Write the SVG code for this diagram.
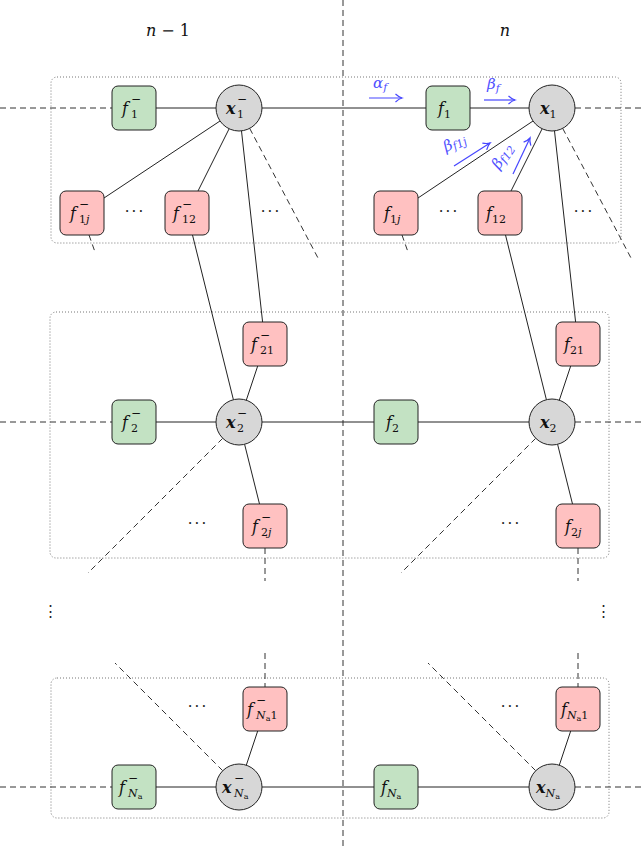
<svg xmlns="http://www.w3.org/2000/svg" width="644" height="846" viewBox="0 0 644 846">
<defs>
<style>
.bg{fill:#fff}
.grp{fill:none;stroke:#777;stroke-width:1;stroke-dasharray:1 2}
.sol{stroke:#222;stroke-width:1;fill:none}
.dsh{stroke:#333;stroke-width:1;fill:none;stroke-dasharray:6 4}
.fg{fill:#c3e2c3;stroke:#222;stroke-width:1}
.fr{fill:#ffc1c1;stroke:#222;stroke-width:1}
.vx{fill:#d7d7d7;stroke:#222;stroke-width:1}
.t{font-family:'DejaVu Serif','Liberation Serif',serif;font-size:16px;fill:#111}
.it{font-style:italic}
.bi{font-style:italic;font-weight:bold}
.s{font-size:11px}
.sm{font-size:12px}
.ss{font-size:8px}
.dots{font-family:'DejaVu Serif',serif;font-size:15px;fill:#222;letter-spacing:2px}
.blue{stroke:#4646ff;stroke-width:1.2;fill:none}
.bt{font-family:'DejaVu Serif','Liberation Serif',serif;font-size:15px;fill:#5050ff;font-style:italic}
</style>
<marker id="ah" markerWidth="10" markerHeight="10" refX="8" refY="5" orient="auto" markerUnits="userSpaceOnUse">
<path d="M1.5,1 Q5,4.2 8,5 Q5,5.8 1.5,9" fill="none" stroke="#4646ff" stroke-width="1.2"/>
</marker>
</defs>
<rect class="bg" x="0" y="0" width="644" height="846"/>

<g id="groups">
<rect class="grp" x="51" y="77" width="570" height="166" rx="6"/>
<rect class="grp" x="50" y="312" width="559" height="246" rx="6"/>
<rect class="grp" x="51" y="678" width="558" height="140" rx="6"/>
</g>

<g id="connectors">
<line class="dsh" x1="343" y1="0" x2="343" y2="846"/>
<line class="dsh" x1="0" y1="108" x2="112" y2="108"/>
<line class="sol" x1="156" y1="108" x2="216" y2="108"/>
<line class="sol" x1="262" y1="108" x2="426" y2="108"/>
<line class="sol" x1="470" y1="108" x2="529" y2="108"/>
<line class="dsh" x1="575" y1="108" x2="644" y2="108"/>
<line class="dsh" x1="0" y1="422" x2="112" y2="422"/>
<line class="sol" x1="156" y1="422" x2="216" y2="422"/>
<line class="sol" x1="262" y1="422" x2="374" y2="422"/>
<line class="sol" x1="418" y1="422" x2="529" y2="422"/>
<line class="dsh" x1="575" y1="422" x2="644" y2="422"/>
<line class="dsh" x1="0" y1="787" x2="112" y2="787"/>
<line class="sol" x1="156" y1="787" x2="216" y2="787"/>
<line class="sol" x1="262" y1="787" x2="374" y2="787"/>
<line class="sol" x1="418" y1="787" x2="529" y2="787"/>
<line class="dsh" x1="575" y1="787" x2="644" y2="787"/>
<line class="sol" x1="220" y1="121" x2="104" y2="198"/>
<line class="sol" x1="229" y1="129" x2="198" y2="191"/>
<line class="sol" x1="241.5" y1="131" x2="262.6" y2="322"/>
<line class="dsh" x1="249.7" y1="128.4" x2="318" y2="258"/>
<line class="dsh" x1="89" y1="235" x2="95" y2="252"/>
<line class="sol" x1="192.5" y1="235" x2="233.4" y2="399.7"/>
<line class="sol" x1="257.7" y1="366" x2="246.3" y2="400.2"/>
<line class="sol" x1="244.6" y1="444.3" x2="259.5" y2="504"/>
<line class="dsh" x1="222.7" y1="438.3" x2="88" y2="573"/>
<line class="dsh" x1="265" y1="548" x2="265" y2="581"/>
<line class="dsh" x1="222.7" y1="770.7" x2="115" y2="663"/>
<line class="dsh" x1="265" y1="653" x2="265" y2="687"/>
<line class="sol" x1="257.7" y1="731" x2="246.3" y2="765.2"/>
<line class="sol" x1="533" y1="121" x2="418" y2="198"/>
<line class="sol" x1="542" y1="129" x2="511" y2="191"/>
<line class="sol" x1="554.5" y1="131" x2="575.6" y2="322"/>
<line class="dsh" x1="562.7" y1="128.4" x2="631" y2="258"/>
<line class="dsh" x1="402" y1="235" x2="408" y2="252"/>
<line class="sol" x1="505.5" y1="235" x2="546.4" y2="399.7"/>
<line class="sol" x1="570.7" y1="366" x2="559.3" y2="400.2"/>
<line class="sol" x1="557.6" y1="444.3" x2="572.5" y2="504"/>
<line class="dsh" x1="535.7" y1="438.3" x2="401" y2="573"/>
<line class="dsh" x1="578" y1="548" x2="578" y2="581"/>
<line class="dsh" x1="535.7" y1="770.7" x2="428" y2="663"/>
<line class="dsh" x1="578" y1="653" x2="578" y2="687"/>
<line class="sol" x1="570.7" y1="731" x2="559.3" y2="765.2"/>
</g>

<g id="messages">
<line class="blue" x1="369" y1="98" x2="402" y2="98" marker-end="url(#ah)"/>
<text class="bt" x="373" y="88">α<tspan class="s" dy="3">f</tspan></text>
<line class="blue" x1="484" y1="100" x2="515" y2="100" marker-end="url(#ah)"/>
<text class="bt" x="487" y="89">β<tspan class="s" dy="3">f</tspan></text>
<line class="blue" x1="454" y1="166" x2="490" y2="143" marker-end="url(#ah)"/>
<text class="bt" transform="translate(446,152) rotate(-25)">β<tspan class="s" dy="2">f1j</tspan></text>
<line class="blue" x1="513" y1="174" x2="530" y2="138" marker-end="url(#ah)"/>
<text class="bt" transform="translate(499,170) rotate(-55)">β<tspan class="s" dy="2">f12</tspan></text>
</g>

<g id="headers">
<text class="t" x="168" y="36" text-anchor="middle"><tspan class="it">n</tspan> − 1</text>
<text class="t it" x="505" y="36" text-anchor="middle">n</text>
</g>

<g id="ellipses">
<text class="dots" x="135" y="216" text-anchor="middle">···</text>
<text class="dots" x="271" y="216" text-anchor="middle">···</text>
<text class="dots" x="449" y="216" text-anchor="middle">···</text>
<text class="dots" x="584" y="216" text-anchor="middle">···</text>
<text class="dots" x="198" y="528" text-anchor="middle">···</text>
<text class="dots" x="511" y="528" text-anchor="middle">···</text>
<text class="dots" x="198" y="711" text-anchor="middle">···</text>
<text class="dots" x="511" y="711" text-anchor="middle">···</text>
<text class="dots" x="51" y="616" text-anchor="middle">⋮</text>
<text class="dots" x="604" y="616" text-anchor="middle">⋮</text>
</g>

<g id="f1m"><rect class="fg" x="112" y="86" width="44" height="44" rx="6"/>
<text class="t" x="122" y="114"><tspan class="it">f</tspan><tspan class="sm" x="131" y="103">−</tspan><tspan class="s" x="131" y="118">1</tspan></text></g>
<g id="x1m"><circle class="vx" cx="239" cy="108" r="23"/>
<text class="t" x="226" y="114"><tspan class="bi">x</tspan><tspan class="sm" x="237" y="103">−</tspan><tspan class="s" x="237" y="118">1</tspan></text></g>
<g id="f1jm"><rect class="fr" x="60" y="191" width="44" height="44" rx="6"/>
<text class="t" x="70" y="219"><tspan class="it">f</tspan><tspan class="sm" x="79" y="208">−</tspan><tspan class="s" x="79" y="223">1<tspan class="it">j</tspan></tspan></text></g>
<g id="f12m"><rect class="fr" x="165" y="191" width="44" height="44" rx="6"/>
<text class="t" x="173" y="219"><tspan class="it">f</tspan><tspan class="sm" x="182" y="208">−</tspan><tspan class="s" x="182" y="223">12</tspan></text></g>
<g id="f2m"><rect class="fg" x="112" y="400" width="44" height="44" rx="6"/>
<text class="t" x="122" y="428"><tspan class="it">f</tspan><tspan class="sm" x="131" y="417">−</tspan><tspan class="s" x="131" y="432">2</tspan></text></g>
<g id="x2m"><circle class="vx" cx="239" cy="422" r="23"/>
<text class="t" x="226" y="428"><tspan class="bi">x</tspan><tspan class="sm" x="237" y="417">−</tspan><tspan class="s" x="237" y="432">2</tspan></text></g>
<g id="f21m"><rect class="fr" x="243" y="322" width="44" height="44" rx="6"/>
<text class="t" x="251" y="350"><tspan class="it">f</tspan><tspan class="sm" x="260" y="339">−</tspan><tspan class="s" x="260" y="354">21</tspan></text></g>
<g id="f2jm"><rect class="fr" x="243" y="504" width="44" height="44" rx="6"/>
<text class="t" x="252" y="532"><tspan class="it">f</tspan><tspan class="sm" x="261" y="521">−</tspan><tspan class="s" x="261" y="536">2<tspan class="it">j</tspan></tspan></text></g>
<g id="fNam"><rect class="fg" x="112" y="765" width="44" height="44" rx="6"/>
<text class="t" x="119" y="793"><tspan class="it">f</tspan><tspan class="sm" x="128" y="782">−</tspan><tspan class="s it" x="128" y="797">N</tspan><tspan class="ss" y="799">a</tspan></text></g>
<g id="xNam"><circle class="vx" cx="239" cy="787" r="23"/>
<text class="t" x="222" y="793"><tspan class="bi">x</tspan><tspan class="sm" x="234" y="782">−</tspan><tspan class="s it" x="234" y="797">N</tspan><tspan class="ss" y="799">a</tspan></text></g>
<g id="fNa1m"><rect class="fr" x="243" y="687" width="44" height="44" rx="6"/>
<text class="t" x="247" y="715"><tspan class="it">f</tspan><tspan class="sm" x="256" y="704">−</tspan><tspan class="s it" x="256" y="719">N</tspan><tspan class="ss" y="721">a</tspan><tspan class="s" y="719">1</tspan></text></g>

<g id="f1"><rect class="fg" x="426" y="86" width="44" height="44" rx="6"/>
<text class="t" x="438" y="114"><tspan class="it">f</tspan><tspan class="s" dy="4">1</tspan></text></g>
<g id="x1"><circle class="vx" cx="552" cy="108" r="23"/>
<text class="t" x="540" y="114"><tspan class="bi">x</tspan><tspan class="s" dy="4">1</tspan></text></g>
<g id="f1j"><rect class="fr" x="374" y="191" width="44" height="44" rx="6"/>
<text class="t" x="384" y="219"><tspan class="it">f</tspan><tspan class="s" dy="4">1<tspan class="it">j</tspan></tspan></text></g>
<g id="f12"><rect class="fr" x="478" y="191" width="44" height="44" rx="6"/>
<text class="t" x="486" y="219"><tspan class="it">f</tspan><tspan class="s" dy="4">12</tspan></text></g>
<g id="f2"><rect class="fg" x="374" y="400" width="44" height="44" rx="6"/>
<text class="t" x="386" y="428"><tspan class="it">f</tspan><tspan class="s" dy="4">2</tspan></text></g>
<g id="x2"><circle class="vx" cx="552" cy="422" r="23"/>
<text class="t" x="540" y="428"><tspan class="bi">x</tspan><tspan class="s" dy="4">2</tspan></text></g>
<g id="f21"><rect class="fr" x="556" y="322" width="44" height="44" rx="6"/>
<text class="t" x="564" y="350"><tspan class="it">f</tspan><tspan class="s" dy="4">21</tspan></text></g>
<g id="f2j"><rect class="fr" x="556" y="504" width="44" height="44" rx="6"/>
<text class="t" x="565" y="532"><tspan class="it">f</tspan><tspan class="s" dy="4">2<tspan class="it">j</tspan></tspan></text></g>
<g id="fNa"><rect class="fg" x="374" y="765" width="44" height="44" rx="6"/>
<text class="t" x="381" y="793"><tspan class="it">f</tspan><tspan class="s it" dy="4">N</tspan><tspan class="ss" dy="2">a</tspan></text></g>
<g id="xNa"><circle class="vx" cx="552" cy="787" r="23"/>
<text class="t" x="536" y="793"><tspan class="bi">x</tspan><tspan class="s it" dy="4">N</tspan><tspan class="ss" dy="2">a</tspan></text></g>
<g id="fNa1"><rect class="fr" x="556" y="687" width="44" height="44" rx="6"/>
<text class="t" x="561" y="715"><tspan class="it">f</tspan><tspan class="s it" dy="4">N</tspan><tspan class="ss" dy="2">a</tspan><tspan class="s" dy="-2">1</tspan></text></g>
</svg>
